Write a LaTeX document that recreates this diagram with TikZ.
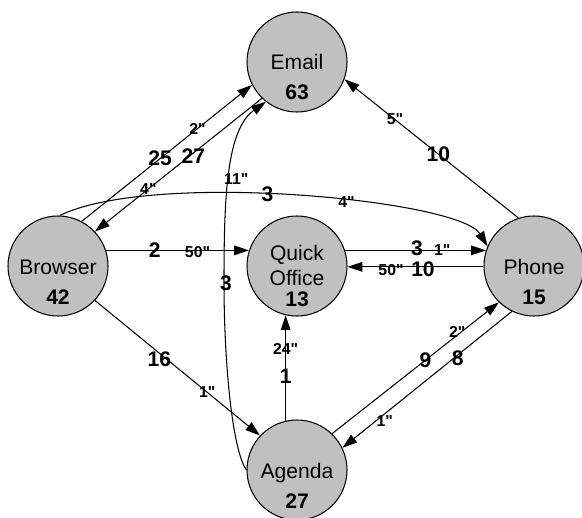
\documentclass[tikz,border=0pt]{standalone}
\usepackage{fontspec}
\setmainfont{Liberation Sans}[Ligatures=TeXOff]
\usetikzlibrary{arrows.meta}
\definecolor{hubgray}{RGB}{192,192,192}

\begin{document}
\begin{tikzpicture}[
  hub/.style={circle,draw,fill=hubgray,line width=0.6pt,minimum size=2cm,inner sep=0pt},
  hubname/.style={anchor=base,inner sep=0pt,font=\fontsize{12}{14}\selectfont},
  hubnum/.style={anchor=base,inner sep=0pt,font=\fontsize{12}{14}\selectfont\bfseries},
  flow/.style={-{Triangle[length=8.5pt,width=5.5pt]},line width=0.6pt},
  cnt/.style={inner sep=0pt,font=\fontsize{12}{14}\selectfont\bfseries},
  dur/.style={inner sep=0pt,font=\fontsize{9}{11}\selectfont\bfseries}]
\useasboundingbox (0,0) rectangle (11.64,-10.34);

% the five hubs
\node[hub] (email) at (5.94,-1.24) {};
\node[hub] (browser) at (1.16,-5.32) {};
\node[hub] (quick) at (5.94,-5.32) {};
\node[hub] (phone) at (10.68,-5.32) {};
\node[hub] (agenda) at (5.94,-9.40) {};

\node[hubname] (email-t) at ([yshift=-0.16cm]email.center) {Email};
\node[hubnum] (email-n) at ([yshift=-0.76cm]email.center) {63};
\node[hubname] (browser-t) at ([yshift=-0.16cm]browser.center) {Browser};
\node[hubnum] (browser-n) at ([yshift=-0.77cm]browser.center) {42};
\node[hubname] (quick-t) at ([yshift=0.12cm]quick.center) {Quick};
\node[hubname] (quick-o) at ([yshift=-0.39cm]quick.center) {Office};
\node[hubnum] (quick-n) at ([yshift=-0.80cm]quick.center) {13};
\node[hubname] (phone-t) at ([yshift=-0.16cm]phone.center) {Phone};
\node[hubnum] (phone-n) at ([yshift=-0.77cm]phone.center) {15};
\node[hubname] (agenda-t) at ([yshift=-0.16cm]agenda.center) {Agenda};
\node[hubnum] (agenda-n) at ([yshift=-0.76cm]agenda.center) {27};

% transitions: count and mean time
\draw[flow] (browser.62) -- node[cnt,pos=0.46] {25} node[dur,pos=0.68] {2"} (email.207);
\draw[flow] (email.226) -- node[cnt,pos=0.41,yshift=-0.06cm] {27} node[dur,pos=0.68] {4"} (browser.43);
\draw[flow] (browser.88) .. controls (3.06,-3.40) and (9.19,-4.00) .. (phone.157)
  node[cnt,pos=0.445] {3} node[dur,pos=0.59] {4"};
\draw[flow] (browser.18) -- node[cnt,pos=0.34] {2} node[dur,pos=0.64,yshift=-0.03cm] {50"} (quick.162);
\draw[flow] (quick.18) -- node[cnt,pos=0.51,yshift=0.05cm] {3} node[dur,pos=0.69] {1"} (phone.162);
\draw[flow] (phone.181) -- node[cnt,pos=0.445,yshift=-0.04cm] {10} node[dur,pos=0.68,yshift=-0.07cm] {50"} (quick.-1);
\draw[flow] (browser.-43) -- node[cnt,pos=0.39,yshift=-0.12cm] {16} node[dur,pos=0.68] {1"} (agenda.137);
\draw[flow] (agenda.103) -- node[cnt,pos=0.425] {1} node[dur,pos=0.68] {24"} (quick.257);
\draw[flow] (agenda.46) -- node[cnt,pos=0.56] {9} node[dur,pos=0.75,yshift=0.06cm] {2"} (phone.226);
\draw[flow] (phone.244) -- node[cnt,pos=0.32,yshift=-0.07cm] {8} node[dur,pos=0.75,yshift=-0.14cm] {1"} (agenda.26);
\draw[flow] (phone.108) -- node[cnt,pos=0.46] {10} node[dur,pos=0.71] {5"} (email.-20);
\draw[flow] (agenda.180) .. controls (4.64,-9.00) and (4.48,-7.20) .. (4.48,-5.66)
  node[cnt,xshift=0.04cm] {3}
  .. controls (4.48,-4.00) and (4.52,-2.60) .. (email.232)
  node[dur,pos=0.46,xshift=0.15cm] {11"};
\end{tikzpicture}
\end{document}
